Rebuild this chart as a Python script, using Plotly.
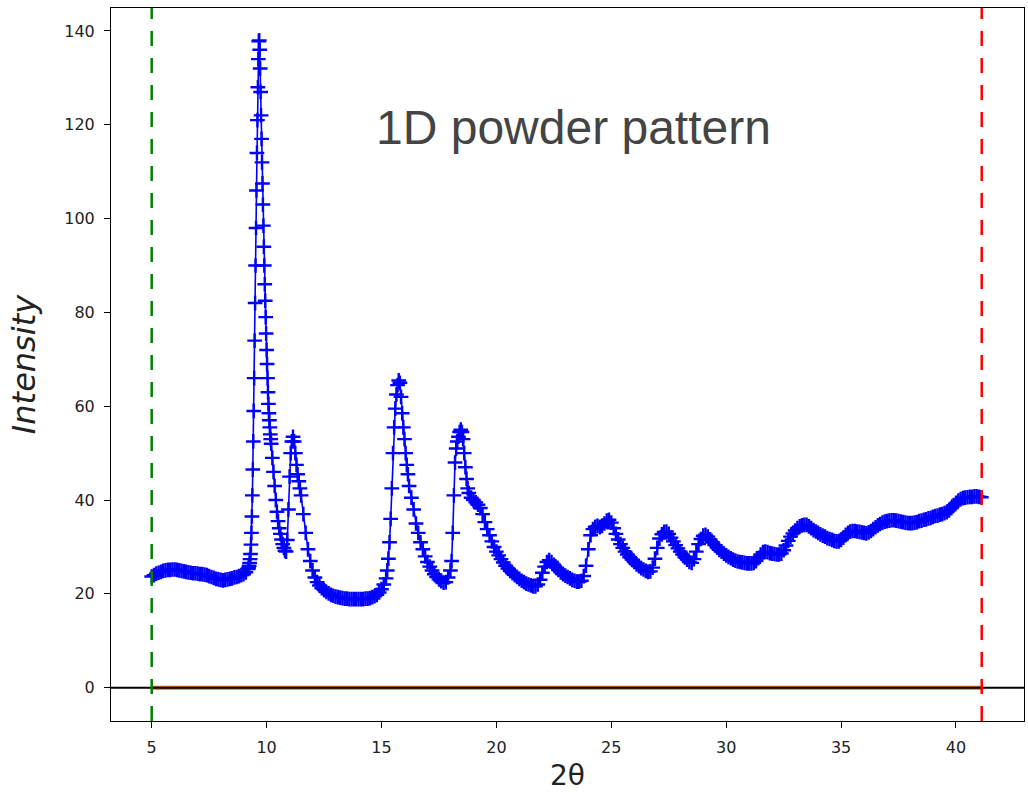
import plotly.graph_objects as go

# ---- data: 2-theta sampling segments (start, step) with intensities ----
seg_A_start, seg_A_step = 5.0, 0.1
seg_A = [23.7, 24.0, 24.3, 24.5, 24.7, 24.9, 25.0, 25.1, 25.1, 25.2, 25.2, 25.1, 25.0, 24.9, 24.8,
         24.7, 24.6, 24.5, 24.4, 24.4, 24.3, 24.2, 24.2, 24.1, 24.0, 23.8, 23.6, 23.4, 23.2, 23.1,
         23.0, 22.9, 23.0, 23.1, 23.2, 23.3, 23.5, 23.6, 23.8, 24.0, 24.2, 24.6, 25.3]

seg_B_start, seg_B_step = 9.22, 0.02
seg_B = [25.6, 26.0, 26.6, 27.4, 28.5, 30.5, 33.0, 36.5, 41.0, 46.5, 52.5, 59.0, 66.0, 74.0, 82.0,
         90.0, 98.0, 106.0, 114.0, 121.0, 128.0, 134.0, 137.8, 138.0, 136.0, 132.0, 127.0, 122.0,
         117.0, 112.0, 107.5, 103.0, 98.5, 94.0, 90.0, 86.0, 82.5, 79.0, 75.5, 72.0, 69.0, 66.0,
         63.0, 60.5, 58.5, 57.0, 55.5, 54.0, 53.0, 52.0]

seg_C_start, seg_C_step = 10.25, 0.05
seg_C = [49.0, 46.0, 43.0, 40.0, 37.5, 35.5, 34.0, 32.8, 31.6, 30.6, 29.8, 29.2, 29.0, 31.5, 38.0,
         45.0, 50.0, 52.5, 53.5, 52.5, 50.0, 47.5, 45.5, 44.0, 42.5, 41.0]

seg_D_start, seg_D_step = 11.6, 0.1
seg_D = [37.0, 33.0, 29.5, 27.0, 25.0, 23.5, 22.5, 21.8, 21.2, 20.8, 20.4, 20.1, 19.8, 19.6, 19.4,
         19.3, 19.2, 19.1, 19.0, 19.0, 18.9, 18.9, 18.9, 18.9, 18.9, 18.9, 18.9, 19.0, 19.0, 19.1,
         19.3, 19.5, 19.8, 20.3, 21.0, 22.0, 23.3]

seg_E_start, seg_E_step = 15.25, 0.05
seg_E = [25.0, 27.5, 31.0, 36.0, 42.5, 50.0, 55.5, 59.5, 62.5, 64.5, 65.5, 65.0, 62.0, 58.5, 55.5,
         53.0, 50.0, 47.5, 45.5, 43.0]

seg_F_start, seg_F_step = 16.3, 0.1
seg_F = [40.5, 38.0, 35.0, 33.0, 31.0, 29.5, 28.0, 26.8, 25.8, 25.0, 24.2, 23.6, 23.1, 22.7, 22.4,
         22.5, 23.5, 25.0]

seg_G_start, seg_G_step = 18.05, 0.05
seg_G = [27.0, 33.0, 41.0, 48.0, 51.0, 52.5, 53.5, 54.5, 55.0, 54.5, 53.0, 50.0, 47.0, 44.5, 42.5,
         41.5]

seg_H_start, seg_H_step = 18.9, 0.1
seg_H = [40.5, 40.0, 39.5, 39.0, 38.3, 37.0, 35.3, 33.8, 32.5, 31.2, 30.0, 29.0, 28.2, 27.4, 26.7,
         26.0, 25.4, 24.9, 24.4, 24.0, 23.6, 23.2, 22.8, 22.5, 22.2, 22.0, 21.8, 21.6, 21.6, 22.0,
         23.0, 24.5, 25.8, 26.8, 27.2, 26.8, 26.2, 25.6, 25.1, 24.6, 24.2, 23.9, 23.6, 23.3, 23.0,
         22.8, 22.6, 22.6, 22.8, 23.8, 26.0, 29.5, 32.5, 33.8, 34.3, 34.5, 34.2, 34.5, 35.0, 35.6,
         35.8, 35.2, 34.0, 32.8, 31.6, 30.6, 29.8, 29.0, 28.4, 27.8, 27.3, 26.8, 26.3, 25.9, 25.5,
         25.2, 24.9, 24.7, 24.8, 25.6, 27.5, 29.8, 31.8, 32.7, 33.2, 33.3, 32.8, 32.0, 31.2, 30.4,
         29.7, 29.0, 28.4, 27.8, 27.3, 26.8, 26.6, 27.4, 29.0, 30.6, 31.7, 32.4, 32.6, 32.2, 31.6,
         31.0, 30.4, 29.9, 29.4, 29.0, 28.6, 28.2, 27.9, 27.6, 27.3, 27.1, 26.9, 26.8, 26.7, 26.6,
         26.5, 26.5, 26.5, 26.6, 27.0, 27.6, 28.4, 28.9, 29.0, 28.9, 28.7, 28.6, 28.5, 28.4, 28.4,
         28.6, 29.3, 30.3, 31.3, 32.2, 32.9, 33.5, 34.0, 34.4, 34.6, 34.7, 34.7, 34.4, 34.0, 33.6,
         33.3, 33.0, 32.7, 32.4, 32.2, 31.9, 31.7, 31.5, 31.3, 31.2, 31.2, 31.5, 32.0, 32.6, 33.0,
         33.3, 33.4, 33.4, 33.3, 33.2, 33.1, 33.0, 32.9, 33.1, 33.4, 33.8, 34.2, 34.6, 34.9, 35.2,
         35.4, 35.5, 35.6, 35.7, 35.7, 35.6, 35.5, 35.4, 35.3, 35.2, 35.1, 35.1, 35.1, 35.2, 35.3,
         35.5, 35.6, 35.8, 35.9, 36.1, 36.2, 36.4, 36.6, 36.7, 36.9, 37.0, 37.2, 37.4, 37.8, 38.3,
         38.9, 39.4, 39.9, 40.2, 40.4, 40.5, 40.6, 40.7, 40.7, 40.8, 40.8, 40.7, 40.6]

segments = [(seg_A_start, seg_A_step, seg_A), (seg_B_start, seg_B_step, seg_B),
            (seg_C_start, seg_C_step, seg_C), (seg_D_start, seg_D_step, seg_D),
            (seg_E_start, seg_E_step, seg_E), (seg_F_start, seg_F_step, seg_F),
            (seg_G_start, seg_G_step, seg_G), (seg_H_start, seg_H_step, seg_H)]

two_theta, intensity = [], []
for start, step, vals in segments:
    for i, v in enumerate(vals):
        two_theta.append(round(start + i * step, 4))
        intensity.append(v)

background = [0.0 for _ in two_theta]
range_min = 5.0
range_max = 41.12
x_ticks = [5, 10, 15, 20, 25, 30, 35, 40]
y_ticks = [0, 20, 40, 60, 80, 100, 120, 140]

fig = go.Figure()
fig.add_trace(go.Scatter(x=two_theta, y=background, mode="lines",
                         line=dict(color="#d8642a", width=4), hoverinfo="skip"))
fig.add_trace(go.Scatter(x=two_theta, y=intensity, mode="lines+markers",
                         line=dict(color="#0000ff", width=1.6),
                         marker=dict(symbol="cross-thin", size=10.5, color="#0000ff",
                                     line=dict(color="#0000ff", width=2.4))))

fig.add_shape(type="line", xref="paper", x0=0, x1=1, yref="y", y0=0, y1=0,
              line=dict(color="black", width=2), layer="above")
fig.add_shape(type="line", xref="x", x0=range_min, x1=range_min, yref="paper", y0=0, y1=1,
              line=dict(color="#008000", width=2.5, dash="15px,12px"), layer="above")
fig.add_shape(type="line", xref="x", x0=range_max, x1=range_max, yref="paper", y0=0, y1=1,
              line=dict(color="#ff0000", width=2.5, dash="15px,12px"), layer="above")

fig.add_annotation(text="1D powder pattern", xref="paper", yref="paper", x=0.507, y=0.832,
                   xanchor="center", yanchor="middle", showarrow=False,
                   font=dict(family="Liberation Sans, Arial", size=48, color="#444444"))

axis_common = dict(showline=True, mirror=True, linecolor="black", linewidth=1,
                   ticks="outside", ticklen=6, tickwidth=1, tickcolor="black",
                   showgrid=False, zeroline=False,
                   tickfont=dict(family="DejaVu Sans", size=16, color="#222222"))

fig.update_layout(
    width=1028, height=792,
    margin=dict(l=111, r=4, t=8, b=71),
    paper_bgcolor="white", plot_bgcolor="white",
    showlegend=False,
    xaxis=dict(range=[3.229, 42.96], tickvals=x_ticks, ticklabelstandoff=6,
               title=dict(text="2θ", font=dict(family="DejaVu Sans", size=28, color="#222222"),
                          standoff=10),
               automargin=False, **axis_common),
    yaxis=dict(range=[-7.1, 144.9], tickvals=y_ticks, ticklabelstandoff=6,
               title=dict(text="<i>Intensity</i>",
                          font=dict(family="DejaVu Sans", size=32, color="#222222"),
                          standoff=19),
               automargin=False, **axis_common),
)

fig.write_html("out.html", config={"displayModeBar": False},
               post_script="document.body.style.margin='0';document.body.style.padding='0';")
